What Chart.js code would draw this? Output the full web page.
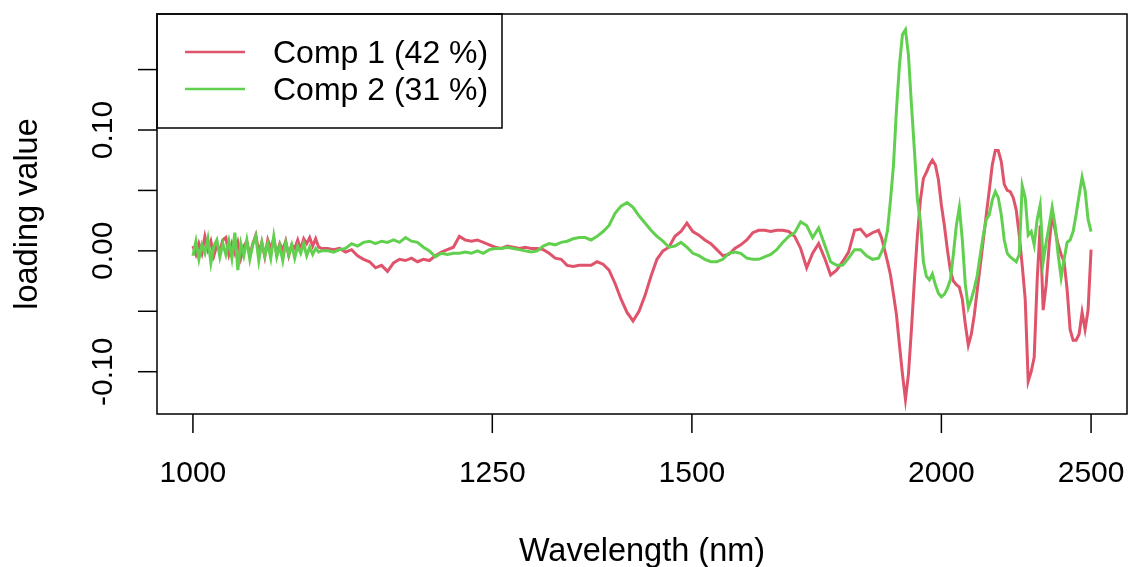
<!DOCTYPE html>
<html>
<head>
<meta charset="utf-8">
<script src="https://cdn.jsdelivr.net/npm/chart.js@4.4.0/dist/chart.umd.min.js"></script>
<style>
  html, body { margin: 0; padding: 0; background: #fff; }
  #wrap { width: 1128px; height: 567px; position: relative; }
</style>
</head>
<body>
<div id="wrap"><canvas id="chart"></canvas></div>
<script>
// x positions are wavenumbers (cm-1), axis is labelled in nm
const wavenumber = [
  // 10000 -> 9140, step 20
  10000,9980,9960,9940,9920,9900,9880,9860,9840,9820,9800,9780,9760,9740,9720,9700,9680,9660,9640,9620,
  9600,9580,9560,9540,9520,9500,9480,9460,9440,9420,9400,9380,9360,9340,9320,9300,9280,9260,9240,9220,
  9200,9180,9160,9140,
  // 9100 -> 5420, step 40
  9100,9060,9020,8980,8940,8900,8860,8820,8780,8740,8700,8660,8620,8580,8540,8500,8460,8420,8380,8340,
  8300,8260,8220,8180,8140,8100,8060,8020,7980,7940,7900,7860,7820,7780,7740,7700,7660,7620,7580,7540,
  7500,7460,7420,7380,7340,7300,7260,7220,7180,7140,7100,7060,7020,6980,6940,6900,6860,6820,6780,6740,
  6700,6660,6620,6580,6540,6500,6460,6420,6380,6340,6300,6260,6220,6180,6140,6100,6060,6020,5980,5940,
  5900,5860,5820,5780,5740,5700,5660,5620,5580,5540,5500,5460,5420,
  // 5400 -> 4000, step 20
  5400,5380,5360,5340,5320,5300,5280,5260,5240,5220,5200,5180,5160,5140,5120,5100,5080,5060,5040,5020,
  5000,4980,4960,4940,4920,4900,4880,4860,4840,4820,4800,4780,4760,4740,4720,4700,4680,4660,4640,4620,
  4600,4580,4560,4540,4520,4500,4480,4460,4440,4420,4400,4380,4360,4340,4320,4300,4280,4260,4240,4220,
  4200,4180,4160,4140,4120,4100,4080,4060,4040,4020,4000
];

const comp1 = [
  0.004,-0.003,0.006,-0.002,0.012,0.001,0.008,-0.004,0.005,0.000,0.009,0.011,-0.003,0.006,-0.002,0.007,-0.006,0.004,0.008,-0.004,
  0.006,0.013,-0.001,0.007,-0.005,0.009,0.002,0.010,-0.003,0.006,0.001,0.008,-0.004,0.005,0.002,0.009,0.001,0.010,0.006,0.011,
  0.004,0.010,0.003,0.002,
  0.002,0.001,0.002,-0.001,0.001,-0.004,-0.007,-0.009,-0.014,-0.012,-0.017,-0.010,-0.007,-0.008,-0.006,-0.009,-0.007,-0.008,-0.004,-0.001,
  0.001,0.003,0.012,0.009,0.008,0.009,0.007,0.005,0.003,0.002,0.004,0.003,0.002,0.003,0.002,0.002,0.001,-0.002,-0.006,-0.007,
  -0.012,-0.013,-0.012,-0.012,-0.012,-0.009,-0.011,-0.016,-0.027,-0.040,-0.051,-0.058,-0.050,-0.037,-0.021,-0.007,0.000,0.003,0.012,0.016,
  0.023,0.016,0.013,0.009,0.006,0.001,-0.004,-0.003,0.002,0.005,0.009,0.015,0.017,0.017,0.016,0.017,0.017,0.016,0.012,0.002,
  -0.014,-0.002,0.006,-0.006,-0.020,-0.016,-0.009,-0.001,0.017,0.018,0.012,0.015,0.017,
  0.011,0.001,-0.009,-0.020,-0.036,-0.053,-0.078,-0.102,-0.123,-0.102,-0.065,-0.024,0.013,0.042,0.060,0.065,0.071,0.075,0.071,0.059,
  0.038,0.021,0.001,-0.016,-0.025,-0.028,-0.030,-0.040,-0.061,-0.078,-0.069,-0.053,-0.032,-0.012,0.009,0.030,0.050,0.071,0.083,0.083,
  0.074,0.055,0.050,0.049,0.044,0.034,0.013,-0.012,-0.040,-0.108,-0.100,-0.088,-0.024,0.021,-0.049,-0.028,0.005,0.030,0.017,0.005,
  -0.003,-0.009,-0.032,-0.065,-0.074,-0.074,-0.069,-0.051,-0.065,-0.049,0.001
];

const comp2 = [
  -0.004,0.008,-0.007,0.005,-0.002,0.010,-0.010,0.004,0.009,-0.005,0.006,-0.003,0.008,-0.006,0.015,-0.016,0.006,-0.004,0.009,-0.007,
  0.005,0.012,-0.008,0.007,-0.004,0.006,-0.006,0.012,-0.005,0.004,-0.008,0.007,-0.003,0.005,-0.006,0.004,-0.002,0.006,-0.004,0.003,
  -0.003,0.002,-0.001,0.000,
  0.000,-0.001,0.001,0.002,0.006,0.004,0.007,0.008,0.006,0.008,0.007,0.009,0.007,0.011,0.008,0.007,0.003,0.000,-0.005,-0.002,
  -0.003,-0.002,-0.002,-0.001,-0.002,0.000,-0.002,0.001,0.002,0.002,0.003,0.002,0.001,0.000,-0.001,0.000,0.004,0.006,0.005,0.007,
  0.008,0.010,0.011,0.011,0.009,0.012,0.016,0.021,0.031,0.037,0.040,0.036,0.029,0.023,0.017,0.012,0.008,0.003,0.004,0.007,
  0.003,-0.002,-0.004,-0.007,-0.009,-0.009,-0.007,-0.002,-0.001,-0.002,-0.006,-0.007,-0.007,-0.005,-0.003,0.001,0.007,0.012,0.015,0.024,
  0.021,0.011,0.019,0.005,-0.009,-0.012,-0.012,-0.006,0.001,0.001,-0.004,-0.007,-0.006,
  -0.001,0.005,0.017,0.042,0.071,0.117,0.154,0.179,0.183,0.162,0.121,0.083,0.042,0.024,-0.009,-0.021,-0.024,-0.019,-0.028,-0.035,
  -0.038,-0.036,-0.031,-0.024,-0.003,0.021,0.036,0.009,-0.028,-0.047,-0.040,-0.031,-0.020,-0.003,0.013,0.026,0.030,0.042,0.049,0.044,
  0.030,0.009,-0.002,-0.005,-0.007,-0.009,-0.003,0.054,0.044,0.013,0.016,0.005,0.026,0.038,-0.009,0.007,0.021,0.036,0.021,-0.003,
  -0.022,-0.007,0.007,0.009,0.016,0.030,0.046,0.061,0.050,0.026,0.016
];

const seriesNames = ["Comp 1 (42 %)", "Comp 2 (31 %)"];
const seriesColors = ["#DF536B", "#61D04F"];
const xTickNm = [1000, 1250, 1500, 2000, 2500];
const yTicks = [-0.10, -0.05, 0.00, 0.05, 0.10, 0.15];
const yTickLabels = ["-0.10", "", "0.00", "", "0.10", ""];

const FONT = '"Liberation Sans", Arial, sans-serif';

function toPoints(values) {
  return values.map((v, i) => ({ x: wavenumber[i], y: v }));
}

// box, ticks, labels and legend drawn the way R's base graphics does
const rFrame = {
  id: 'rFrame',
  afterDraw(chart) {
    const { ctx, chartArea: a, scales: { x, y } } = chart;
    ctx.save();
    ctx.strokeStyle = '#000';
    ctx.fillStyle = '#000';
    ctx.lineWidth = 1.5;
    ctx.strokeRect(a.left, a.top, a.right - a.left, a.bottom - a.top);

    ctx.font = '30px ' + FONT;
    ctx.textAlign = 'center';
    ctx.textBaseline = 'alphabetic';
    xTickNm.forEach(nm => {
      const px = x.getPixelForValue(1e7 / nm);
      ctx.beginPath();
      ctx.moveTo(px, a.bottom);
      ctx.lineTo(px, a.bottom + 19);
      ctx.stroke();
      ctx.fillText(String(nm), px, 482);
    });

    yTicks.forEach((t, i) => {
      const py = y.getPixelForValue(t);
      ctx.beginPath();
      ctx.moveTo(a.left - 19, py);
      ctx.lineTo(a.left, py);
      ctx.stroke();
      if (yTickLabels[i]) {
        ctx.save();
        ctx.translate(112, py);
        ctx.rotate(-Math.PI / 2);
        ctx.fillText(yTickLabels[i], 0, 0);
        ctx.restore();
      }
    });

    ctx.font = '32.5px ' + FONT;
    ctx.fillText('Wavelength (nm)', (a.left + a.right) / 2, 561);
    ctx.save();
    ctx.translate(37, (a.top + a.bottom) / 2);
    ctx.rotate(-Math.PI / 2);
    ctx.fillText('loading value', 0, 0);
    ctx.restore();

    // legend
    ctx.strokeRect(a.left, a.top, 502 - a.left, 128 - a.top);
    ctx.font = '32px ' + FONT;
    ctx.textAlign = 'left';
    seriesNames.forEach((name, i) => {
      const ly = 52 + i * 37;
      ctx.strokeStyle = seriesColors[i];
      ctx.lineWidth = 2.5;
      ctx.beginPath();
      ctx.moveTo(185, ly);
      ctx.lineTo(245, ly);
      ctx.stroke();
      ctx.fillText(name, 273, ly + 11);
    });
    ctx.restore();
  }
};

new Chart(document.getElementById('chart'), {
  type: 'line',
  data: {
    datasets: [
      {
        label: seriesNames[0],
        data: toPoints(comp1),
        borderColor: seriesColors[0],
        borderWidth: 3,
        pointRadius: 0,
        order: 1
      },
      {
        label: seriesNames[1],
        data: toPoints(comp2),
        borderColor: seriesColors[1],
        borderWidth: 3,
        pointRadius: 0,
        order: 0
      }
    ]
  },
  options: {
    responsive: true,
    maintainAspectRatio: false,
    animation: false,
    layout: { padding: { left: 157, right: 1, top: 14, bottom: 153 } },
    plugins: { legend: { display: false }, tooltip: { enabled: false } },
    scales: {
      x: { type: 'linear', reverse: true, min: 3760, max: 10240, display: false },
      y: { min: -0.135, max: 0.196, display: false }
    }
  },
  plugins: [rFrame]
});
</script>
</body>
</html>
